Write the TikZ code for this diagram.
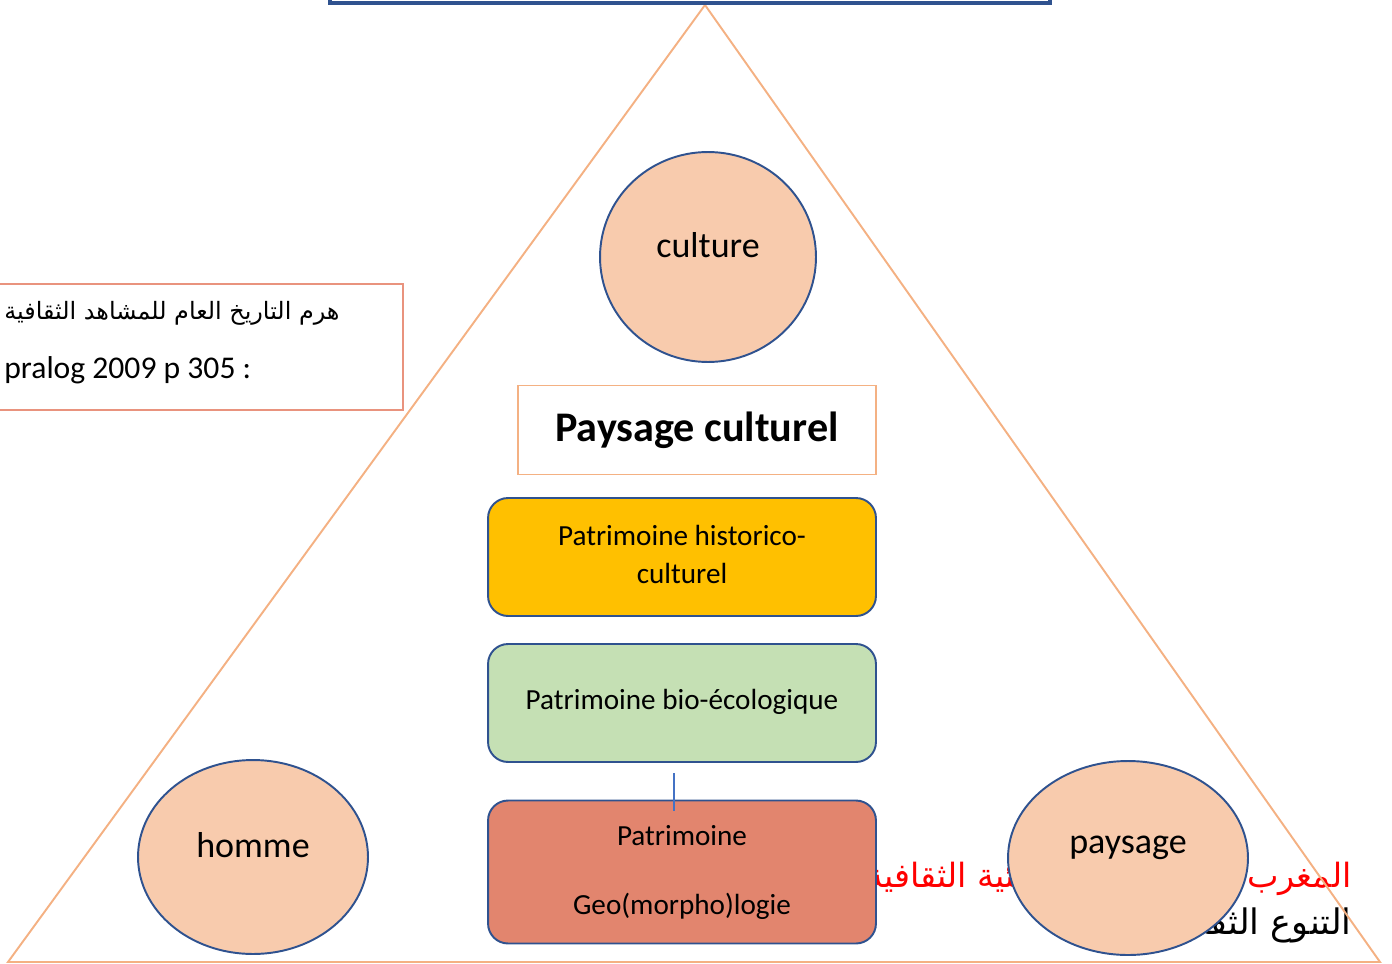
\documentclass[tikz,border=0pt]{standalone}
\usepackage{fontspec}
\setmainfont{Carlito}
\newfontfamily\arabicfont[Script=Arabic]{DejaVu Sans}
\TeXXeTstate=1
\usetikzlibrary{shapes.geometric}

\definecolor{triorange}{HTML}{F4B183}
\definecolor{ovalblue}{HTML}{2F528F}
\definecolor{ovalfill}{HTML}{F8CBAD}
\definecolor{hisyellow}{HTML}{FFC000}
\definecolor{biogreen}{HTML}{C5E0B4}
\definecolor{geored}{HTML}{E2856E}
\definecolor{srcred}{HTML}{E9937E}
\definecolor{tickblue}{HTML}{4472C4}

\begin{document}
\begin{tikzpicture}[x=0.02cm, y=-0.02cm,
  oval/.style={ellipse, draw=ovalblue, line width=1.1pt, fill=ovalfill, inner sep=0pt},
  ovaltext/.style={font=\fontsize{20.5}{24}\selectfont},
  patbox/.style={draw=ovalblue, line width=1.1pt, rounded corners=0.4cm, minimum width=7.76cm, align=center, font=\fontsize{16.6}{21.6}\selectfont}]
\useasboundingbox (0,0) rectangle (1392,963);

% arabic lines at the bottom right, partly hidden
\node[anchor=east, inner sep=0pt, text=red, font=\arabicfont\fontsize{19}{22}\selectfont] (arRed) at (1352,875) {\beginR المغرب بتنوع أنظمته البيئية الثقافية\endR};
\node[anchor=east, inner sep=0pt, font=\arabicfont\fontsize{20}{24}\selectfont] (arBlack) at (1352,925) {\beginR التنوع الثقافي\endR};

% pyramid
\draw[triorange, line width=1.1pt] (705,5) -- (8,962) -- (1380,962) -- cycle;

% top box, cut by the page
\draw[ovalblue, line width=2pt] (330,-30) rectangle (1050,3);

% source box
\draw[srcred, line width=1.2pt, fill=white] (-10,284) rectangle (403,410);
\node[anchor=west, inner sep=0pt, font=\arabicfont\fontsize{13.6}{16}\selectfont] (srcAr) at (4,313) {\beginR هرم التاريخ العام للمشاهد الثقافية\endR};
\node[anchor=west, inner sep=0pt, font=\fontsize{18}{22}\selectfont] (srcRef) at (4,370) {pralog 2009 p 305 :};

\node[oval, minimum width=4.32cm, minimum height=4.2cm] (culture) at (708,257) {};
\node[ovaltext] (cultureT) at ([yshift=0.24cm]culture.center) {culture};

\node[oval, minimum width=4.6cm, minimum height=3.88cm] (homme) at (253,857) {};
\node[ovaltext] (hommeT) at ([yshift=0.24cm]homme.center) {homme};

\node[draw=triorange, line width=1.1pt, fill=white, minimum width=7.16cm, minimum height=1.78cm,
  font=\bfseries\fontsize{24}{28}\selectfont] (paysCult) at (697,430) {\raisebox{0.1cm}{Paysage culturel}};

\node[patbox, fill=hisyellow, minimum height=2.36cm] (histo) at (682,557) {\raisebox{0.08cm}{\begin{tabular}{@{}c@{}}Patrimoine historico-\\culturel\end{tabular}}};
\node[patbox, fill=biogreen, minimum height=2.36cm] (bio) at (682,703) {\raisebox{0.16cm}{Patrimoine bio-écologique}};
\node[patbox, fill=geored, minimum height=2.86cm] (geo) at (682,872) {Patrimoine\\[0.62cm]Geo(morpho)logie};

\coordinate (tickTop) at (674,773);
\draw[tickblue, line width=0.8pt] (tickTop) -- ++(0,38);

\node[oval, minimum width=4.8cm, minimum height=3.88cm] (paysage) at (1128,858) {};
\node[ovaltext] (paysageT) at ([yshift=0.2cm]paysage.center) {paysage};
\end{tikzpicture}
\end{document}
